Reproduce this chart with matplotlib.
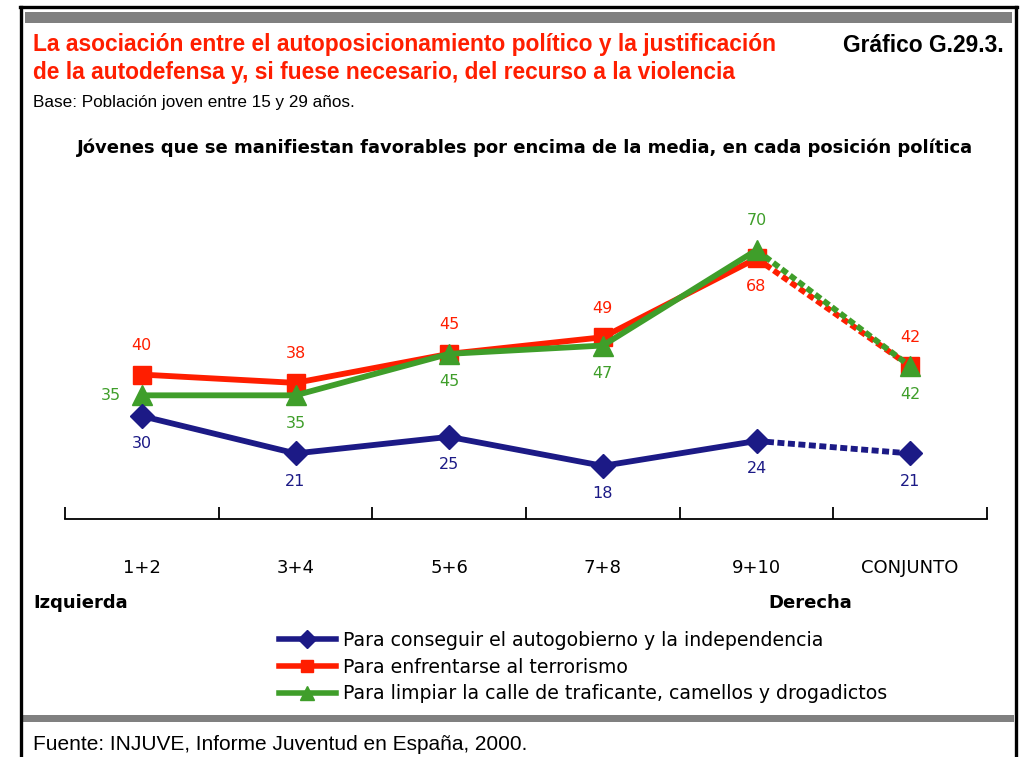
import matplotlib
matplotlib.use("Agg")
import matplotlib.pyplot as plt
from matplotlib import font_manager
from matplotlib.lines import Line2D
from matplotlib.patches import Rectangle

# ---------------- data ----------------
categories = ['1+2', '3+4', '5+6', '7+8', '9+10', 'CONJUNTO']
autogobierno = [30, 21, 25, 18, 24, 21]
terrorismo = [40, 38, 45, 49, 68, 42]
limpiar = [35, 35, 45, 47, 70, 42]
series_names = [
    'Para conseguir el autogobierno y la independencia',
    'Para enfrentarse al terrorismo',
    'Para limpiar la calle de traficante, camellos y drogadictos',
]

# label placement per point: 'a' above, 'b' below, 'l' left
pos_auto = ['b', 'b', 'b', 'b', 'b', 'b']
pos_terr = ['a', 'a', 'a', 'a', 'b', 'a']
pos_limp = ['l', 'b', 'b', 'b', 'a', 'b']

BLUE = '#1c1a86'
RED = '#ff1e00'
GREEN = '#3f9e2a'

W, H = 1035, 757


def has_font(name):
    try:
        font_manager.findfont(font_manager.FontProperties(family=name),
                              fallback_to_default=False)
        return True
    except Exception:
        return False


NARROW = has_font('Liberation Sans Narrow')
narrow_fam = ['Liberation Sans Narrow', 'Liberation Sans', 'DejaVu Sans'] if NARROW \
    else ['Liberation Sans', 'DejaVu Sans']
title_size = 17 if NARROW else 16.4

fig = plt.figure(figsize=(W / 100, H / 100), dpi=100)


def fx(x):
    return x / W


def fy(y):
    return 1 - y / H


# ---------------- frame ----------------
fig.add_artist(Line2D([fx(21), fx(21)], [fy(7), fy(757)], color='black', lw=2.4))
fig.add_artist(Line2D([fx(1015.5), fx(1015.5)], [fy(7), fy(757)], color='black', lw=2.4))
fig.add_artist(Line2D([fx(20), fx(1016.5)], [fy(7), fy(7)], color='black', lw=2.4))
fig.add_artist(Rectangle((fx(25), fy(23)), fx(1012) - fx(25), fy(12) - fy(23),
                         transform=fig.transFigure, color='#808080', lw=0))
fig.add_artist(Rectangle((fx(22), fy(722)), fx(1014) - fx(22), fy(715) - fy(722),
                         transform=fig.transFigure, color='#808080', lw=0))

# ---------------- header texts ----------------
fig.text(fx(33), fy(45), 'La asociación entre el autoposicionamiento político y la justificación',
         color=RED, fontsize=title_size, fontweight='bold', family=narrow_fam,
         ha='left', va='center')
fig.text(fx(33), fy(73), 'de la autodefensa y, si fuese necesario, del recurso a la violencia',
         color=RED, fontsize=title_size, fontweight='bold', family=narrow_fam,
         ha='left', va='center')
fig.text(fx(1004), fy(45), 'Gráfico G.29.3.', color='black', fontsize=title_size,
         fontweight='bold', family=narrow_fam, ha='right', va='center')
fig.text(fx(33), fy(102), 'Base: Población joven entre 15 y 29 años.', color='black',
         fontsize=12.3, family=narrow_fam, ha='left', va='center')
fig.text(fx(525), fy(148),
         'Jóvenes que se manifiestan favorables por encima de la media, en cada posición política',
         color='black', fontsize=13, fontweight='bold', family='DejaVu Sans',
         ha='center', va='center')
fig.text(fx(33), fy(745), 'Fuente: INJUVE, Informe Juventud en España, 2000.',
         color='black', fontsize=15, family=['Liberation Sans', 'DejaVu Sans'],
         ha='left', va='center')

# ---------------- axes ----------------
ax = fig.add_axes([fx(65), fy(519), fx(987) - fx(65), fy(187) - fy(519)])
ax.set_xlim(-0.5, len(categories) - 0.5)
ax.set_ylim(5.2, 85.2)
for s in ['top', 'left', 'right']:
    ax.spines[s].set_visible(False)
ax.spines['bottom'].set_linewidth(1.3)
ax.set_yticks([])
xs = list(range(len(categories)))
ax.set_xticks(xs)
ax.set_xticklabels(categories, fontsize=13, family='DejaVu Sans')
ax.tick_params(axis='x', which='major', length=0, pad=29)
ax.set_xticks([x - 0.5 for x in range(len(categories) + 1)], minor=True)
ax.tick_params(axis='x', which='minor', direction='in', length=9, width=1.3)
ax.patch.set_alpha(0)


def draw(vals, color, marker, msize, z, positions):
    ax.plot(xs[:5], vals[:5], color=color, lw=4.2, solid_capstyle='butt', zorder=z)
    ax.plot(xs[4:], vals[4:], color=color, lw=4.2, linestyle=(0, (1.2, 0.6)),
            dash_capstyle='butt', zorder=z)
    ax.plot(xs, vals, linestyle='none', marker=marker, markersize=msize,
            color=color, markeredgecolor=color, zorder=z + 0.5)
    for x, v, p in zip(xs, vals, positions):
        off = {'a': (0, 21), 'b': (0, -20), 'l': (-22, 0)}[p]
        ax.annotate(str(v), (x, v), xytext=off, textcoords='offset points',
                    ha='center', va='center', color=color, fontsize=11.5,
                    family='DejaVu Sans', zorder=10)


draw(terrorismo, RED, 's', 13, 3, pos_terr)
draw(limpiar, GREEN, '^', 14, 4, pos_limp)
draw(autogobierno, BLUE, 'D', 12, 5, pos_auto)

fig.text(fx(33), fy(603), 'Izquierda', fontsize=13, fontweight='bold',
         family='DejaVu Sans', ha='left', va='center')
fig.text(fx(768), fy(603), 'Derecha', fontsize=13, fontweight='bold',
         family='DejaVu Sans', ha='left', va='center')

# ---------------- legend ----------------
handles = [
    Line2D([], [], color=BLUE, lw=4, marker='D', markersize=9),
    Line2D([], [], color=RED, lw=4, marker='s', markersize=9),
    Line2D([], [], color=GREEN, lw=4, marker='^', markersize=10),
]
fig.legend(handles, series_names, loc='upper left',
           bbox_to_anchor=(fx(279), fy(631)), frameon=False,
           prop={'family': 'DejaVu Sans', 'size': 13.6},
           handlelength=3.0, handletextpad=0.4, labelspacing=0.4,
           borderpad=0, borderaxespad=0)

fig.savefig('out.png', dpi=100)
